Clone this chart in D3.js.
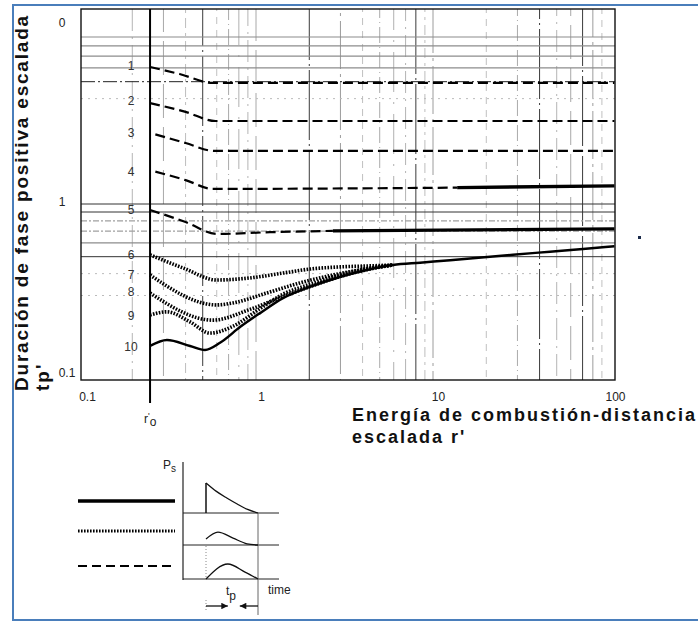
<!DOCTYPE html>
<html>
<head>
<meta charset="utf-8">
<script src="https://cdn.jsdelivr.net/npm/d3@7"></script>
<style>
  html, body { margin: 0; padding: 0; background: #fff; }
  svg { display: block; }
  text { font-family: "Liberation Sans", Arial, sans-serif; }
</style>
</head>
<body>
<svg id="chart" width="698" height="622"></svg>
<script>
// ---- axis ticks ----
const xTickValues = [0.1, 1, 10, 100];
const xTickText = ["0.1", "1", "10", "100"];
const yTickValues = [10, 1, 0.1];
const yTickText = ["0", "1", "0.1"];

// ---- log grid ----
const gridXValues = [0.2, 0.3, 0.4, 0.5, 0.6, 0.7, 0.8, 0.9, 1,
                     2, 3, 4, 5, 6, 7, 8, 9, 10,
                     20, 30, 40, 50, 60, 70, 80, 90];
const gridYValues = [9, 8, 7, 6, 5, 4, 1, 0.9, 0.8, 0.7, 0.6, 0.5, 0.4, 0.3];

// scaled charge radius r'o
const r0 = 0.252;

// ---- curves: [r', tp'] ----
const curve1 = [[0.252, 6.07], [0.37, 5.53], [0.57, 4.92], [106, 4.92]];
const curve2 = [[0.252, 3.77], [0.40, 3.36], [0.59, 2.98], [106, 2.98]];
const curve3 = [[0.27, 2.50], [0.40, 2.23], [0.58, 2.01], [106, 2.01]];
const curve4 = [[0.27, 1.53], [0.40, 1.37], [0.57, 1.22], [13.7, 1.24]];
const curve4Solid = [[13.7, 1.24], [106, 1.27]];
const curve5 = [[0.252, 0.924], [0.40, 0.789], [0.60, 0.674], [1.2, 0.69], [2.72, 0.702]];
const curve5Solid = [[2.72, 0.702], [106, 0.721]];
const curve6 = [[0.252, 0.512], [0.387, 0.431], [0.60, 0.368], [0.925, 0.378], [1.42, 0.403],
                [2.02, 0.425], [2.98, 0.437], [4.41, 0.443], [5.94, 0.448]];
const curve7 = [[0.252, 0.393], [0.60, 0.265], [0.74, 0.272], [1.15, 0.310], [1.77, 0.354],
                [2.72, 0.393], [3.87, 0.420], [5.94, 0.448]];
const curve8 = [[0.252, 0.310], [0.57, 0.217], [0.925, 0.250], [1.42, 0.296], [2.02, 0.337],
                [2.98, 0.385], [4.41, 0.425], [5.94, 0.448]];
const curve9 = [[0.252, 0.232], [0.314, 0.242], [0.424, 0.212], [0.55, 0.183], [0.74, 0.200],
                [1.05, 0.252], [1.42, 0.305], [2.02, 0.348], [2.98, 0.395], [4.24, 0.428], [5.94, 0.448]];
const curve10 = [[0.252, 0.1545], [0.314, 0.167], [0.424, 0.1545], [0.515, 0.1466], [0.626, 0.161],
                 [0.812, 0.198], [1.054, 0.238], [1.42, 0.290], [2.02, 0.336], [2.98, 0.383],
                 [4.24, 0.420], [5.94, 0.448], [8.45, 0.462], [12.5, 0.477], [16.8, 0.490],
                 [28.3, 0.513], [45.8, 0.534], [70.4, 0.554], [106, 0.574]];

const curveLabels = ["1", "2", "3", "4", "5", "6", "7", "8", "9", "10"];
const curveLabelValues = [6.2, 3.9, 2.55, 1.53, 0.925, 0.51, 0.395, 0.315, 0.23, 0.152];

// ---- pulse shapes for the key (normalised time, pressure) ----
const pulseSolid = [[0, 0], [0, 1], [0.2, 0.72], [0.4, 0.5], [0.6, 0.3], [0.8, 0.12], [1, 0]];
const pulseHatched = [[0, 0.2], [0.23, 0.43], [0.52, 0.23], [0.79, 0.04], [1, 0]];
const pulseDashed = [[0, 0], [0.42, 0.5], [0.75, 0.23], [1, 0]];

const svg = d3.select("#chart");

// outer blue frame
svg.append("path")
  .attr("d", "M698,5 H13 V620 H698")
  .attr("fill", "none").attr("stroke", "#4a7ebb").attr("stroke-width", 2);

const plot = { left: 81, right: 615, top: 9, bottom: 380 };

const x = d3.scaleLog().domain([0.1, 100]).range([79, 610]);
const y = d3.scaleLog().domain([0.1, 10]).range([379, 29]);

svg.append("clipPath").attr("id", "plotClip")
  .append("rect")
  .attr("x", plot.left).attr("y", plot.top)
  .attr("width", plot.right - plot.left).attr("height", plot.bottom - plot.top);

const grid = svg.append("g").attr("clip-path", "url(#plotClip)");

// vertical grid lines: broken, printed-look strokes
const vStyles = [
  { c: "#b4b4b4", d: "22,6,2,6" },
  { c: "#a8a8a8", d: "34,9" },
  { c: "#bdbdbd", d: "3,5,10,5" },
  { c: "#9c9c9c", d: "48,5,3,5" },
  { c: "#c0c0c0", d: "7,6" },
  { c: "#aaaaaa", d: "16,4,1,4" },
  { c: "#b0b0b0", d: "40,10,2,10" }
];
const darkV = new Set([0.5, 2, 8, 40, 70]);
grid.selectAll("line.vgrid")
  .data(gridXValues)
  .join("line")
  .attr("class", "vgrid")
  .attr("x1", d => x(d)).attr("x2", d => x(d))
  .attr("y1", plot.top).attr("y2", plot.bottom)
  .attr("stroke", (d, i) => darkV.has(d) ? "#3a3a3a" : vStyles[i % vStyles.length].c)
  .attr("stroke-width", 1)
  .attr("stroke-dasharray", (d, i) => darkV.has(d) ? "70,4,2,4" : vStyles[i % vStyles.length].d)
  .attr("stroke-dashoffset", (d, i) => i * 11);

// horizontal grid lines
const hStyle = v => {
  if (v === 5) return { c: "#222", d: "14,3,2,3", w: 1 };
  if (v === 4 || v === 0.4 || v === 0.3) return { c: "#bbb", d: "2,5", w: 1 };
  if (v === 0.8 || v === 0.7) return { c: "#a0a0a0", d: "6,2,2,2", w: 1.2 };
  if (v === 1 || v === 0.9 || v === 0.5) return { c: "#333", d: null, w: 1 };
  return { c: "#8c8c8c", d: null, w: 1.2 };
};
grid.selectAll("line.hgrid")
  .data(gridYValues)
  .join("line")
  .attr("class", "hgrid")
  .attr("x1", plot.left).attr("x2", plot.right)
  .attr("y1", d => y(d)).attr("y2", d => y(d))
  .attr("stroke", d => hStyle(d).c)
  .attr("stroke-width", d => hStyle(d).w)
  .attr("stroke-dasharray", d => hStyle(d).d);

// curves
const line = d3.line().x(d => x(d[0])).y(d => y(d[1])).curve(d3.curveMonotoneX);
const curves = svg.append("g").attr("clip-path", "url(#plotClip)");

function draw(data, style) {
  const p = curves.append("path").datum(data)
    .attr("d", line)
    .attr("fill", "none")
    .attr("stroke", "#000")
    .attr("stroke-linejoin", "round");
  if (style === "dashed") p.attr("stroke-width", 2.2).attr("stroke-dasharray", "10,5");
  if (style === "hatched") p.attr("stroke-width", 3.6).attr("stroke-dasharray", "1.6,1.4");
  if (style === "solid") p.attr("stroke-width", 2.5);
  if (style === "thick") p.attr("stroke-width", 3.4);
}
[curve1, curve2, curve3, curve4, curve5].forEach(c => draw(c, "dashed"));
draw(curve4Solid, "thick");
draw(curve5Solid, "thick");
[curve6, curve7, curve8, curve9].forEach(c => draw(c, "hatched"));
draw(curve10, "solid");

// curve numbers
svg.append("g").selectAll("text")
  .data(curveLabels)
  .join("text")
  .attr("x", 131)
  .attr("y", (d, i) => y(curveLabelValues[i]))
  .attr("dy", "0.35em")
  .attr("text-anchor", "middle")
  .attr("font-size", 12)
  .attr("fill", "#333")
  .text(d => d);

// plot frame
svg.append("rect")
  .attr("x", plot.left).attr("y", plot.top)
  .attr("width", plot.right - plot.left).attr("height", plot.bottom - plot.top)
  .attr("fill", "none").attr("stroke", "#111").attr("stroke-width", 1.4);

// r'o marker line
svg.append("line")
  .attr("x1", x(r0)).attr("x2", x(r0))
  .attr("y1", plot.top).attr("y2", 403)
  .attr("stroke", "#000").attr("stroke-width", 2);
const r0Label = svg.append("text")
  .attr("x", x(r0) - 6).attr("y", 423)
  .attr("font-size", 12).attr("fill", "#222");
r0Label.append("tspan").text("r");
r0Label.append("tspan").attr("font-size", 9).attr("dy", -4).text("'");
r0Label.append("tspan").attr("dy", 7).text("o");

// axes
const xAxis = svg.append("g")
  .attr("transform", `translate(0,${plot.bottom})`)
  .call(d3.axisBottom(x).tickValues(xTickValues)
    .tickFormat((d, i) => xTickText[i]).tickSize(0).tickPadding(12));
xAxis.select(".domain").remove();
xAxis.selectAll("text")
  .attr("font-size", 12).attr("font-family", "Liberation Sans, Arial, sans-serif")
  .attr("fill", "#222")
  .attr("dx", d => d === 0.1 ? 8 : 5);

const yAxis = svg.append("g")
  .attr("transform", `translate(${plot.left},0)`)
  .call(d3.axisLeft(y).tickValues(yTickValues)
    .tickFormat((d, i) => yTickText[i]).tickSize(0));
yAxis.select(".domain").remove();
yAxis.selectAll("text")
  .attr("font-size", 12).attr("font-family", "Liberation Sans, Arial, sans-serif")
  .attr("fill", "#222")
  .attr("text-anchor", "middle")
  .attr("x", d => d < 1 ? -14 : -19)
  .attr("y", d => d === 1 ? -2 : -6);

// axis titles
const yTitle = svg.append("g").attr("font-weight", "bold").attr("font-size", 19).attr("fill", "#111");
yTitle.append("text")
  .attr("transform", "translate(28,391) rotate(-90)")
  .attr("letter-spacing", 1.8)
  .text("Duración de fase positiva escalada");
yTitle.append("text")
  .attr("transform", "translate(49,391) rotate(-90)")
  .attr("letter-spacing", 2)
  .text("tp'");

const xTitle = svg.append("g").attr("font-weight", "bold").attr("font-size", 18).attr("fill", "#111");
xTitle.append("text").attr("x", 352).attr("y", 421).attr("letter-spacing", 2)
  .text("Energía de combustión-distancia");
xTitle.append("text").attr("x", 352).attr("y", 443).attr("letter-spacing", 2)
  .text("escalada r'");

// stray mark right of the plot
svg.append("rect").attr("x", 638).attr("y", 236).attr("width", 3).attr("height", 3).attr("fill", "#1b2b4b");

// ---- pulse key ----
const key = svg.append("g");
const t = d3.scaleLinear().domain([0, 1]).range([206, 258]);
const amp = 30;
const baselines = [513, 545, 579];

// key axis
key.append("line").attr("x1", 183).attr("x2", 183).attr("y1", 462).attr("y2", 580)
  .attr("stroke", "#222").attr("stroke-width", 1.2);
baselines.forEach(b => {
  key.append("line").attr("x1", 183).attr("x2", 279).attr("y1", b).attr("y2", b)
    .attr("stroke", "#222").attr("stroke-width", 1);
});
// end of positive phase
key.append("line").attr("x1", t(1)).attr("x2", t(1)).attr("y1", 513).attr("y2", 615)
  .attr("stroke", "#666").attr("stroke-width", 1);
key.append("line").attr("x1", t(0)).attr("x2", t(0)).attr("y1", 546).attr("y2", 578)
  .attr("stroke", "#888").attr("stroke-width", 1).attr("stroke-dasharray", "1,2");
key.append("line").attr("x1", t(0)).attr("x2", t(0)).attr("y1", 600).attr("y2", 612)
  .attr("stroke", "#888").attr("stroke-width", 1).attr("stroke-dasharray", "1,2");

const pulseLine = b => d3.line().x(d => t(d[0])).y(d => b - d[1] * amp).curve(d3.curveMonotoneX);
key.append("path").datum(pulseSolid.slice(1)).attr("d", pulseLine(baselines[0]))
  .attr("fill", "none").attr("stroke", "#111").attr("stroke-width", 1.3);
key.append("line").attr("x1", t(0)).attr("x2", t(0)).attr("y1", baselines[0]).attr("y2", baselines[0] - amp)
  .attr("stroke", "#111").attr("stroke-width", 1.5);
key.append("path").datum(pulseHatched).attr("d", pulseLine(baselines[1]))
  .attr("fill", "none").attr("stroke", "#111").attr("stroke-width", 1.3);
key.append("path").datum(pulseDashed).attr("d", pulseLine(baselines[2]))
  .attr("fill", "none").attr("stroke", "#111").attr("stroke-width", 1.3);

// key line samples
const keyLines = [
  { yy: 501, w: 3.4, d: null },
  { yy: 531, w: 3, d: "1.6,1.4" },
  { yy: 566, w: 1.8, d: "9,5" }
];
keyLines.forEach(k => {
  key.append("line").attr("x1", 78).attr("x2", 175).attr("y1", k.yy).attr("y2", k.yy)
    .attr("stroke", "#000").attr("stroke-width", k.w).attr("stroke-dasharray", k.d);
});

// labels
const ps = key.append("text").attr("x", 163).attr("y", 469).attr("font-size", 12).attr("fill", "#222");
ps.append("tspan").text("P");
ps.append("tspan").attr("font-size", 10).attr("dy", 3).text("s");
key.append("text").attr("x", 268).attr("y", 594).attr("font-size", 12).attr("fill", "#222").text("time");
const tp = key.append("text").attr("x", 226).attr("y", 595).attr("font-size", 12).attr("fill", "#222");
tp.append("tspan").text("t");
tp.append("tspan").attr("dy", 5).text("p");

// t_p arrows
svg.append("defs").append("marker")
  .attr("id", "arrowHead").attr("viewBox", "0 0 10 10")
  .attr("refX", 10).attr("refY", 5)
  .attr("markerWidth", 7).attr("markerHeight", 5)
  .attr("orient", "auto")
  .append("path").attr("d", "M0,0 L10,5 L0,10 z").attr("fill", "#111");
key.append("line").attr("x1", t(0)).attr("x2", t(0.42)).attr("y1", 606).attr("y2", 606)
  .attr("stroke", "#111").attr("stroke-width", 1.3).attr("marker-end", "url(#arrowHead)");
key.append("line").attr("x1", t(1)).attr("x2", t(0.65)).attr("y1", 606).attr("y2", 606)
  .attr("stroke", "#111").attr("stroke-width", 1.3).attr("marker-end", "url(#arrowHead)");
</script>
</body>
</html>
